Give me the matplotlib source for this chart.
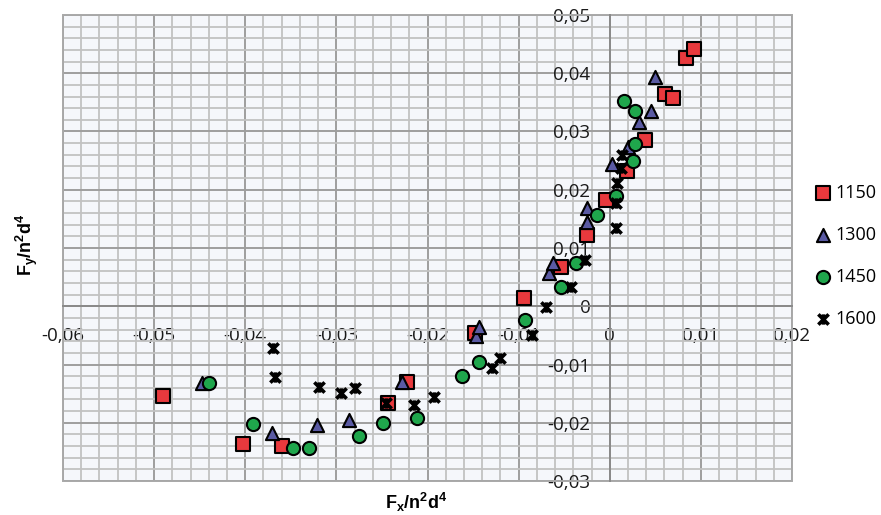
import matplotlib
matplotlib.use("Agg")
import matplotlib.pyplot as plt
from matplotlib.ticker import MultipleLocator, FuncFormatter
from matplotlib.path import Path
from matplotlib.patches import Rectangle

plt.rcParams["font.family"] = ["Open Sans", "DejaVu Sans"]
plt.rcParams["mathtext.fontset"] = "custom"
plt.rcParams["mathtext.rm"] = "Liberation Sans"
plt.rcParams["mathtext.bf"] = "Liberation Sans:bold"
plt.rcParams["mathtext.it"] = "Liberation Sans:italic"

# data (Fx/n2d4, Fy/n2d4) per speed
x_1150 = [-0.0490, -0.0403, -0.0360, -0.0243, -0.0222, -0.0148, -0.0094, -0.0054,
          -0.0025, -0.0004, 0.0019, 0.0039, 0.0061, 0.0069, 0.0084, 0.0092]
y_1150 = [-0.0154, -0.0237, -0.0240, -0.0166, -0.0130, -0.0046, 0.0014, 0.0067,
          0.0122, 0.0182, 0.0233, 0.0285, 0.0365, 0.0357, 0.0427, 0.0441]

x_1300 = [-0.0448, -0.0371, -0.0321, -0.0286, -0.0228, -0.0147, -0.0143, -0.0067,
          -0.0062, -0.0025, -0.0025, 0.0002, 0.0020, 0.0032, 0.0045, 0.0050]
y_1300 = [-0.0132, -0.0218, -0.0204, -0.0196, -0.0130, -0.0051, -0.0036, 0.0057,
          0.0074, 0.0144, 0.0168, 0.0245, 0.0274, 0.0317, 0.0336, 0.0393]

x_1450 = [-0.0440, -0.0392, -0.0348, -0.0330, -0.0275, -0.0249, -0.0212, -0.0162, -0.0143,
          -0.0093, -0.0053, -0.0037, -0.0014, 0.0007, 0.0026, 0.0028, 0.0016, 0.0028]
y_1450 = [-0.0132, -0.0202, -0.0244, -0.0244, -0.0223, -0.0201, -0.0192, -0.0120, -0.0096,
          -0.0024, 0.0033, 0.0074, 0.0156, 0.0190, 0.0250, 0.0278, 0.0352, 0.0336]

x_1600 = [-0.0369, -0.0367, -0.0319, -0.0295, -0.0280, -0.0246, -0.0215, -0.0193, -0.0129, -0.0120,
          -0.0085, -0.0070, -0.0042, -0.0027, 0.0007, 0.0007, 0.0008, 0.0012, 0.0013]
y_1600 = [-0.0072, -0.0122, -0.0139, -0.0149, -0.0141, -0.0166, -0.0170, -0.0156, -0.0106, -0.0089,
          -0.0050, -0.0002, 0.0033, 0.0079, 0.0134, 0.0177, 0.0211, 0.0238, 0.0259]

labels = ["1150", "1300", "1450", "1600"]

# Excel style star marker: X plus a vertical bar
star = Path([(-1, -1), (1, 1), (-1, 1), (1, -1), (0, -1), (0, 1)],
            [Path.MOVETO, Path.LINETO, Path.MOVETO, Path.LINETO, Path.MOVETO, Path.LINETO])

fig = plt.figure(figsize=(8.81, 5.15), dpi=100)
ax = fig.add_axes([63 / 881, 1 - 481 / 515, (792 - 63) / 881, (481 - 15) / 515])
ax.set_facecolor("#f5f7fb")
ax.set_xlim(-0.06, 0.02); ax.set_ylim(-0.03, 0.05)
ax.xaxis.set_major_locator(MultipleLocator(0.01)); ax.xaxis.set_minor_locator(MultipleLocator(0.002))
ax.yaxis.set_major_locator(MultipleLocator(0.01)); ax.yaxis.set_minor_locator(MultipleLocator(0.002))
ax.grid(which="major", color="#9e9e9e", lw=1.4)
ax.grid(which="minor", color="#c2c2c2", lw=1.3)
ax.set_axisbelow(True)

fmt = FuncFormatter(lambda v, p: "0" if abs(v) < 1e-9 else f"{v:.2f}".replace(".", ","))
ax.xaxis.set_major_formatter(fmt); ax.yaxis.set_major_formatter(fmt)
ax.tick_params(which="both", length=0, labelsize=13.5, colors="#1a1a1a")
ax.tick_params(axis="x", pad=15)
ax.tick_params(axis="y", pad=14)

for s in ["left", "bottom"]:
    ax.spines[s].set_position(("data", 0)); ax.spines[s].set_color("#8a8a8a"); ax.spines[s].set_linewidth(1.4)
for s in ["top", "right"]:
    ax.spines[s].set_visible(False)
ax.add_patch(Rectangle((0, 0), 1, 1, transform=ax.transAxes, fill=False, ec="#a8a8a8", lw=1.4, clip_on=False))

kw = dict(s=90, edgecolors="black", linewidths=1.5, zorder=3)
h1 = ax.scatter(x_1150, y_1150, marker="s", c="#e8393d", **kw)
h2 = ax.scatter(x_1300, y_1300, marker="^", c="#5a5aa3", **kw)
h3 = ax.scatter(x_1450, y_1450, marker="o", c="#1fa64c", **kw)
h4 = ax.scatter(x_1600, y_1600, marker=star, c="black", s=55, linewidths=2.6, zorder=3)

fig.legend([h1, h2, h3, h4], labels, loc="upper left", bbox_to_anchor=(817 / 881, 1 - 184 / 515),
           frameon=False, fontsize=13, handlelength=0.7, handletextpad=0.3,
           labelspacing=1.33, borderpad=0, borderaxespad=0, scatterpoints=1)

fig.text(416 / 881, 1 - 502 / 515, r"$\mathbf{F_x/n^2d^4}$", ha="center", va="center", fontsize=13)
fig.text(27 / 881, 1 - 245 / 515, r"$\mathbf{F_y/n^2d^4}$", ha="center", va="center", fontsize=13, rotation=90)

plt.savefig("out.png", dpi=100)
